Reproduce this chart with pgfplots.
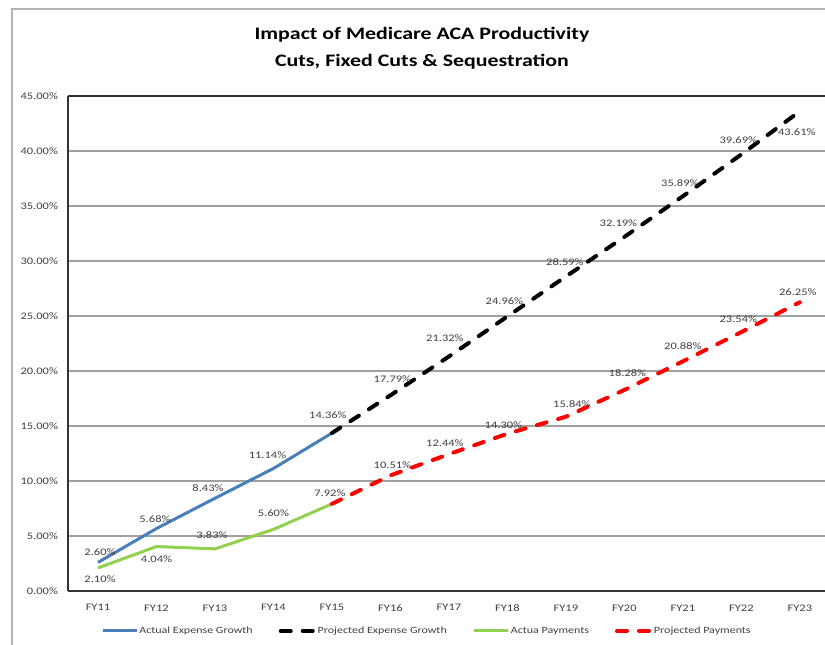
\documentclass[border=0pt]{standalone}
\usepackage{fontspec}
\setmainfont{Carlito}[FakeStretch=1.25]
\usepackage{pgfplots}
\pgfplotsset{compat=1.18}
\definecolor{blueline}{HTML}{4A7EBB}
\definecolor{greenline}{HTML}{92D050}
\definecolor{txt}{HTML}{404040}
\definecolor{gridc}{HTML}{A0A0A0}

\pgfplotsset{
  lbl/.style={draw=none, mark=none, forget plot, point meta=explicit,
    nodes near coords={\pgfmathprintnumber[fixed,fixed zerofill,precision=2]{\pgfplotspointmeta}\%},
    visualization depends on={value \thisrow{dx}\as\dx},
    visualization depends on={value \thisrow{dy}\as\dy},
    every node near coord/.append style={anchor=center, inner sep=0pt, xshift=\dx pt, yshift=\dy pt,
      font=\fontsize{10}{12}\selectfont, text=txt}},
  projdash/.style={line width=4pt, dash pattern=on 10pt off 12pt, line cap=round},
}

\begin{document}
\begin{tikzpicture}[x=1pt,y=1pt]
\fill[white] (0,0) rectangle (825,645);
\draw[gray!60, line width=1.5pt] (12,-2) -- (12,636) -- (830,636);
\node[font=\fontsize{17.5}{27}\selectfont\bfseries, align=center, text=black] at (422,597) {Impact of Medicare ACA Productivity\\Cuts, Fixed Cuts \& Sequestration};

\begin{axis}[
  at={(68pt,54pt)}, anchor=south west, scale only axis,
  width=757pt, height=495pt,
  xmin=-0.513, xmax=12.43, ymin=0, ymax=45,
  axis x line*=bottom, axis y line*=left,
  axis line style={-, draw=black!80, line width=1.5pt},
  ytick={0,5,...,45},
  xtick={0,1,...,12},
  xticklabels={FY11,FY12,FY13,FY14,FY15,FY16,FY17,FY18,FY19,FY20,FY21,FY22,FY23},
  major tick length=0pt,
  ymajorgrids, grid style={gridc, line width=1.2pt},
  /pgf/number format/assume math mode=true,
  yticklabel={\pgfmathprintnumber[fixed,fixed zerofill,precision=2]{\tick}\%},
  yticklabel style={font=\fontsize{10}{12}\selectfont, text=txt, xshift=-6.5pt},
  xticklabel style={font=\fontsize{10}{12}\selectfont, text=txt, yshift=-10pt},
  legend columns=4,
  legend style={draw=none, fill=none, at={(axis description cs:0.4736,-0.0808)}, anchor=center,
    font=\fontsize{9.6}{12}\selectfont, text=txt,
    /tikz/every even column/.append style={column sep=25pt},
    nodes={inner sep=1pt}},
  legend image code/.code={\draw[#1] (0pt,0pt) -- (34pt,0pt);},
  clip=false,
]
\addplot[blueline, line width=3pt] coordinates {(0,2.60) (1,5.68) (2,8.43) (3,11.14) (4,14.36)};
\addlegendentry{Actual Expense Growth}
\addplot[black, projdash] coordinates {(4,14.36) (5,17.79) (6,21.32) (7,24.96) (8,28.59) (9,32.19) (10,35.89) (11,39.69) (12,43.61)};
\addlegendentry{Projected Expense Growth}
\addplot[greenline, line width=3pt] coordinates {(0,2.10) (1,4.04) (2,3.83) (3,5.60) (4,7.92)};
\addlegendentry{Actua Payments}
\addplot[red, projdash] coordinates {(4,7.92) (5,10.51) (6,12.44) (7,14.30) (8,15.84) (9,18.28) (10,20.88) (11,23.54) (12,26.25)};
\addlegendentry{Projected Payments}

% data labels
\addplot[lbl] table[meta=v] {
x y v dx dy
0 2.60 2.60 2 10
1 5.68 5.68 -1.5 9
2 8.43 8.43 -7 10
3 11.14 11.14 -6 13
4 14.36 14.36 -4 18
};
\addplot[lbl] table[meta=v] {
x y v dx dy
5 17.79 17.79 2 16
6 21.32 21.32 -4 18
7 24.96 24.96 -3 15
8 28.59 28.59 -1 14
9 32.19 32.19 -6 14
10 35.89 35.89 -3 13
11 39.69 39.69 -3 14
12 43.61 43.61 -3 -21
};
\addplot[lbl] table[meta=v] {
x y v dx dy
0 2.10 2.10 2 -11
1 4.04 4.04 0 -13
2 3.83 3.83 -3 14
3 5.60 5.60 0 16
};
\addplot[lbl] table[meta=v] {
x y v dx dy
4 7.92 7.92 -2 11
5 10.51 10.51 2 10
6 12.44 12.44 -4 11
7 14.30 14.30 -4 9
8 15.84 15.84 6 13
9 18.28 18.28 3 17
10 20.88 20.88 0 15
11 23.54 23.54 -3 13
12 26.25 26.25 -2 10
};
\draw[black!80, line width=1.5pt] (rel axis cs:0,1) -- (rel axis cs:1.02,1);
\end{axis}
\pgfresetboundingbox
\useasboundingbox (0,0) rectangle (825,645);
\end{tikzpicture}
\end{document}
